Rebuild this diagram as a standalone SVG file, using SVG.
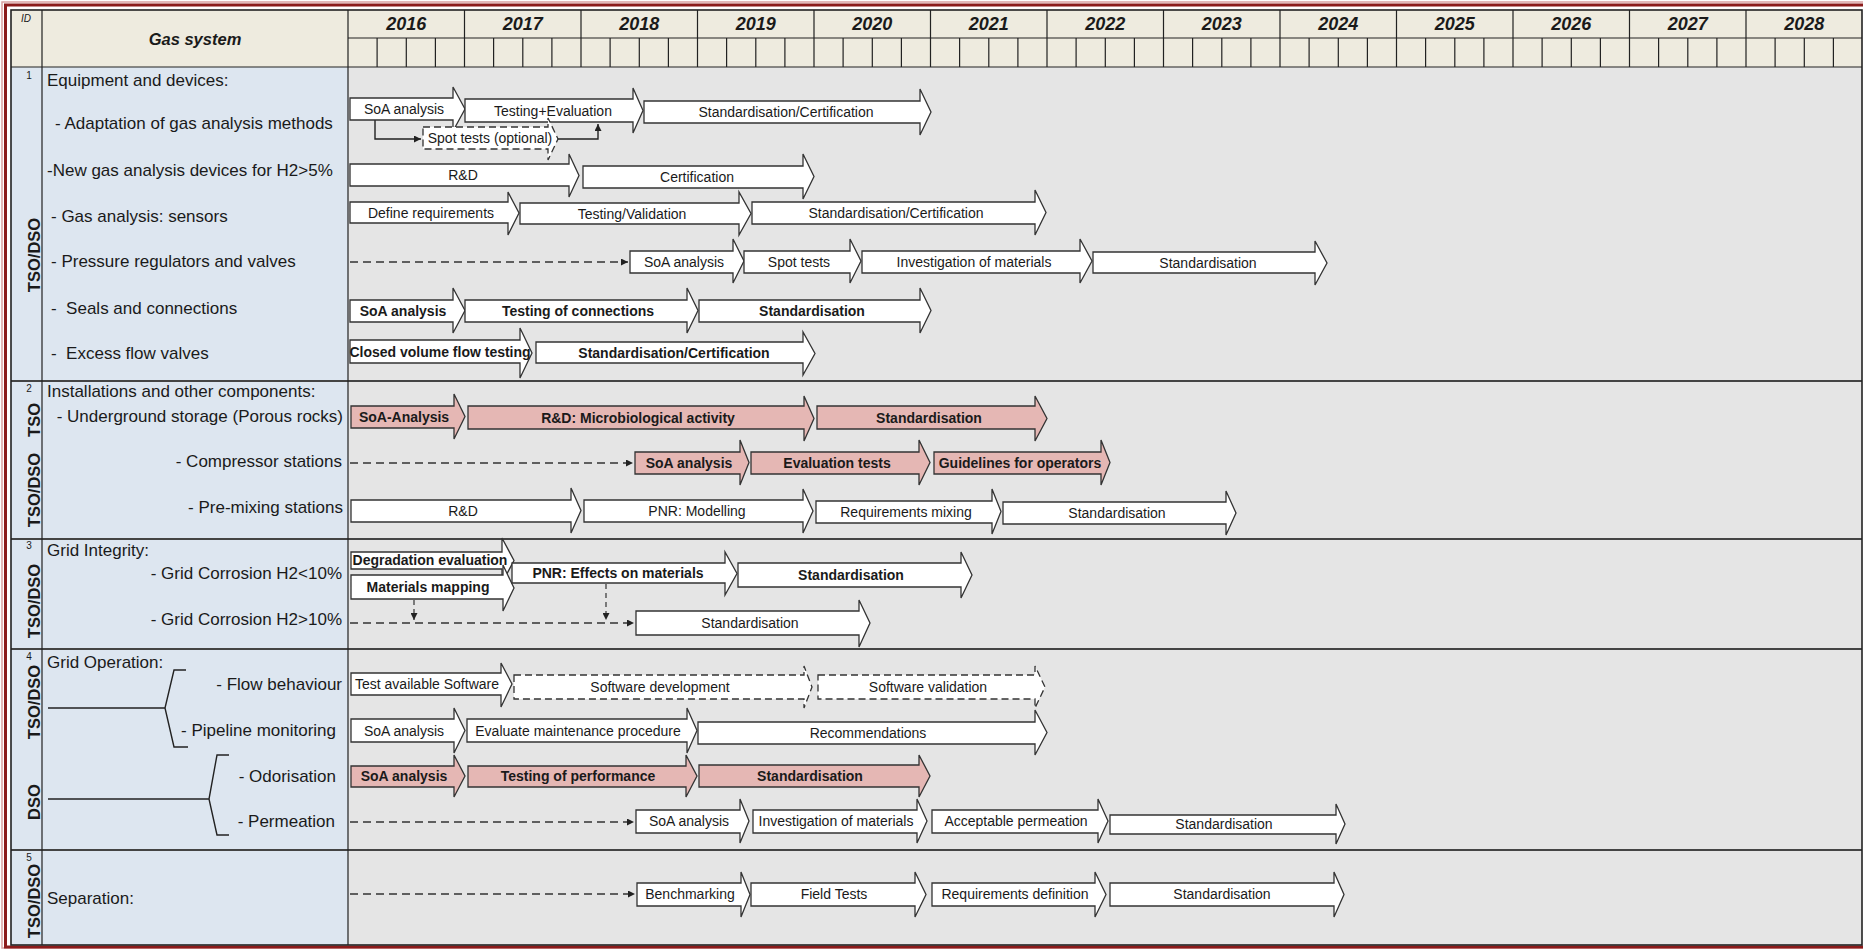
<svg xmlns="http://www.w3.org/2000/svg" width="1863" height="949" viewBox="0 0 1863 949">
<defs>
<style>
text{font-family:"Liberation Sans",Arial,sans-serif;fill:#1a1a1a;dominant-baseline:central}
.lbl{font-size:17px;white-space:pre}
.lr{font-size:17px;text-anchor:end}
.at{font-size:14px;text-anchor:middle}
.ab{font-size:14px;font-weight:bold;text-anchor:middle}
.yr{font-size:18px;font-weight:bold;font-style:italic;text-anchor:middle}
.rot{font-size:16.5px;font-weight:bold;text-anchor:middle}
.id{font-size:10px;text-anchor:middle}
.arr{fill:#fff;stroke:#333;stroke-width:1.3}
.pk{fill:#E5B7B4;stroke:#333;stroke-width:1.3}
.da{fill:#fff;stroke:#333;stroke-width:1.3;stroke-dasharray:7 4}
.dl{fill:none;stroke:#333;stroke-width:1.3;stroke-dasharray:8 5}
.dv{fill:none;stroke:#333;stroke-width:1.2;stroke-dasharray:5 4}
.cn{fill:none;stroke:#222;stroke-width:1.4}
.sec{stroke:#444;stroke-width:2}
.grid{stroke:#222;stroke-width:1.2;fill:none}
</style>
<marker id="ah" viewBox="0 0 8 8" refX="8" refY="4" markerWidth="7" markerHeight="7" markerUnits="userSpaceOnUse" orient="auto">
<path d="M0,0 L8,4 L0,8 Z" fill="#222"/>
</marker>
</defs>

<rect width="1863" height="949" fill="#fff"/>
<rect x="2" y="2" width="1880" height="946" fill="none" stroke="#D9A3A3" stroke-width="1.5"/>
<rect x="5.5" y="5" width="1880" height="942" fill="none" stroke="#8B1B1B" stroke-width="3"/>

<g id="table">
<rect x="11" y="10" width="1851" height="57" fill="#EEEBDF"/>
<rect x="11" y="67" width="337" height="878" fill="#DDE6F0"/>
<rect x="348" y="67" width="1514" height="878" fill="#E5E5E5"/>
<path class="grid" d="M348 38H1862M464.5 10V67M581 10V67M697.5 10V67M814 10V67M930.5 10V67M1047 10V67M1163.5 10V67M1280 10V67M1396.5 10V67M1513 10V67M1629.5 10V67M1746 10V67"/>
<path class="grid" stroke-width="1" d="M377.1 38V67M406.3 38V67M435.4 38V67M493.6 38V67M522.8 38V67M551.9 38V67M610.1 38V67M639.3 38V67M668.4 38V67M726.6 38V67M755.8 38V67M784.9 38V67M843.1 38V67M872.3 38V67M901.4 38V67M959.6 38V67M988.8 38V67M1017.9 38V67M1076.1 38V67M1105.3 38V67M1134.4 38V67M1192.6 38V67M1221.8 38V67M1250.9 38V67M1309.1 38V67M1338.3 38V67M1367.4 38V67M1425.6 38V67M1454.8 38V67M1483.9 38V67M1542.1 38V67M1571.3 38V67M1600.4 38V67M1658.6 38V67M1687.8 38V67M1716.9 38V67M1775.1 38V67M1804.3 38V67M1833.4 38V67"/>
<path class="sec" d="M11 381H1862M11 539H1862M11 649H1862M11 850H1862"/>
<path class="grid" stroke-width="1.6" d="M11 67H1862M42 10V945M348 10V945"/>
<rect x="11" y="10" width="1851" height="935" fill="none" stroke="#222" stroke-width="1.6"/>
<text x="21" y="18" style="font-size:10px;font-style:italic">ID</text>
<text x="195" y="38.5" style="font-size:16.5px;font-weight:bold;font-style:italic;text-anchor:middle">Gas system</text>
<text class="yr" x="406.3" y="24">2016</text>
<text class="yr" x="522.8" y="24">2017</text>
<text class="yr" x="639.3" y="24">2018</text>
<text class="yr" x="755.8" y="24">2019</text>
<text class="yr" x="872.3" y="24">2020</text>
<text class="yr" x="988.8" y="24">2021</text>
<text class="yr" x="1105.3" y="24">2022</text>
<text class="yr" x="1221.8" y="24">2023</text>
<text class="yr" x="1338.3" y="24">2024</text>
<text class="yr" x="1454.8" y="24">2025</text>
<text class="yr" x="1571.3" y="24">2026</text>
<text class="yr" x="1687.8" y="24">2027</text>
<text class="yr" x="1804.3" y="24">2028</text>
</g>

<g id="side-labels">
<text class="id" x="29" y="75">1</text>
<text class="id" x="29" y="388">2</text>
<text class="id" x="29" y="545">3</text>
<text class="id" x="29" y="656">4</text>
<text class="id" x="29" y="857">5</text>
<text class="rot" transform="translate(34,255) rotate(-90)">TSO/DSO</text>
<text class="rot" transform="translate(34,420) rotate(-90)">TSO</text>
<text class="rot" transform="translate(34,490) rotate(-90)">TSO/DSO</text>
<text class="rot" transform="translate(34,601) rotate(-90)">TSO/DSO</text>
<text class="rot" transform="translate(34,702) rotate(-90)">TSO/DSO</text>
<text class="rot" transform="translate(34,802) rotate(-90)">DSO</text>
<text class="rot" transform="translate(34,901) rotate(-90)">TSO/DSO</text>
</g>

<g id="row-labels">
<text class="lbl" x="47" y="80">Equipment and devices:</text>
<text class="lbl" x="55" y="123">- Adaptation of gas analysis methods</text>
<text class="lbl" x="47" y="170">-New gas analysis devices for H2&gt;5%</text>
<text class="lbl" x="51" y="216">- Gas analysis: sensors</text>
<text class="lbl" x="51" y="261">- Pressure regulators and valves</text>
<text class="lbl" x="51" y="308">-  Seals and connections</text>
<text class="lbl" x="51" y="353">-  Excess flow valves</text>
<text class="lbl" x="47" y="391">Installations and other components:</text>
<text class="lr" x="343" y="416">- Underground storage (Porous rocks)</text>
<text class="lr" x="342" y="461">- Compressor stations</text>
<text class="lr" x="343" y="507">- Pre-mixing stations</text>
<text class="lbl" x="47" y="550">Grid Integrity:</text>
<text class="lr" x="342" y="573">- Grid Corrosion H2&lt;10%</text>
<text class="lr" x="342" y="619">- Grid Corrosion H2&gt;10%</text>
<text class="lbl" x="47" y="662">Grid Operation:</text>
<text class="lr" x="342" y="684">- Flow behaviour</text>
<text class="lr" x="336" y="730">- Pipeline monitoring</text>
<text class="lr" x="336" y="776">- Odorisation</text>
<text class="lr" x="335" y="821">- Permeation</text>
<text class="lbl" x="47" y="898">Separation:</text>
</g>

<g id="connectors">
<path class="cn" d="M48 708H165M186 670H174L165 708L174 747H188"/>
<path class="cn" d="M48 799H209M229 755H217L209 799L217 835H229"/>
<path class="cn" d="M375 120V139H421" marker-end="url(#ah)"/>
<path class="cn" d="M558 139H598V124" marker-end="url(#ah)"/>
<path class="dl" d="M350 262H628" marker-end="url(#ah)"/>
<path class="dl" d="M350 463H633" marker-end="url(#ah)"/>
<path class="dl" d="M350 623H634" marker-end="url(#ah)"/>
<path class="dv" d="M414 600V620" marker-end="url(#ah)"/>
<path class="dv" d="M606 584V620" marker-end="url(#ah)"/>
<path class="dl" d="M350 822H634" marker-end="url(#ah)"/>
<path class="dl" d="M350 894H635" marker-end="url(#ah)"/>
</g>

<g id="n1-adaptation">
<path class="arr" d="M350 98H453V87L465 109L453 131V120H350Z"/><text class="at" x="404" y="109">SoA analysis</text>
<path class="arr" d="M465 99H633V88L643 110.5L633 133V122H465Z"/><text class="at" x="553" y="110.5">Testing+Evaluation</text>
<path class="arr" d="M644 101H920V89L931 112L920 135V123H644Z"/><text class="at" x="786" y="112">Standardisation/Certification</text>
<path class="da" d="M423 127H548V118L558 139L548 160V149H423Z"/><text class="at" x="490" y="138">Spot tests (optional)</text>
</g>
<g id="n1-newdevices">
<path class="arr" d="M350 164H569V154L579 175.5L569 197V186H350Z"/><text class="at" x="463" y="175">R&amp;D</text>
<path class="arr" d="M583 166H803V154L814 176.5L803 199V188H583Z"/><text class="at" x="697" y="177">Certification</text>
</g>
<g id="n1-sensors">
<path class="arr" d="M350 202H508V192L519 213L508 235V223H350Z"/><text class="at" x="431" y="212.5">Define requirements</text>
<path class="arr" d="M520 203H739V192L751 213.5L739 235V224H520Z"/><text class="at" x="632" y="213.5">Testing/Validation</text>
<path class="arr" d="M752 202H1035V190L1046 212.5L1035 235V224H752Z"/><text class="at" x="896" y="213">Standardisation/Certification</text>
</g>
<g id="n1-pressure">
<path class="arr" d="M630 251H733V239L744 261L733 283V273H630Z"/><text class="at" x="684" y="262">SoA analysis</text>
<path class="arr" d="M744 251H850V239L861 261L850 283V273H744Z"/><text class="at" x="799" y="262">Spot tests</text>
<path class="arr" d="M862 251H1080V239L1092 261L1080 283V273H862Z"/><text class="at" x="974" y="262">Investigation of materials</text>
<path class="arr" d="M1093 252H1315V241L1327 263L1315 285V273H1093Z"/><text class="at" x="1208" y="262.5">Standardisation</text>
</g>
<g id="n1-seals">
<path class="arr" d="M350 300H453V288L465 310.5L453 333V322H350Z"/><text class="ab" x="403" y="311">SoA analysis</text>
<path class="arr" d="M465 300H687V288L698 310.5L687 333V322H465Z"/><text class="ab" x="578" y="311">Testing of connections</text>
<path class="arr" d="M699 300H920V288L931 310.5L920 333V322H699Z"/><text class="ab" x="812" y="311">Standardisation</text>
</g>
<g id="n1-excess">
<path class="arr" d="M350 340H520V328L532 353L520 378V363H350Z"/><text class="ab" x="440" y="352">Closed volume flow testing</text>
<path class="arr" d="M536 342H803V332L815 353.5L803 375V363H536Z"/><text class="ab" x="674" y="353">Standardisation/Certification</text>
</g>

<g id="n2-underground">
<path class="pk" d="M351 406H454V394L465 416.5L454 439V428H351Z"/><text class="ab" x="404" y="417">SoA-Analysis</text>
<path class="pk" d="M468 406H804V396L814 418.5L804 441V429H468Z"/><text class="ab" x="638" y="418">R&amp;D: Microbiological activity</text>
<path class="pk" d="M817 406H1035V396L1047 418.5L1035 441V429H817Z"/><text class="ab" x="929" y="418">Standardisation</text>
</g>
<g id="n2-compressor">
<path class="pk" d="M635 452H740V440L749 462.5L740 485V474H635Z"/><text class="ab" x="689" y="463">SoA analysis</text>
<path class="pk" d="M751 452H919V440L930 462.5L919 485V474H751Z"/><text class="ab" x="837" y="463">Evaluation tests</text>
<path class="pk" d="M934 452H1101V440L1110 462.5L1101 485V474H934Z"/><text class="ab" x="1020" y="463">Guidelines for operators</text>
</g>
<g id="n2-premixing">
<path class="arr" d="M351 500H571V488L581 510.5L571 533V522H351Z"/><text class="at" x="463" y="511">R&amp;D</text>
<path class="arr" d="M584 500H803V489L813 511L803 533V522H584Z"/><text class="at" x="697" y="511">PNR: Modelling</text>
<path class="arr" d="M816 501H992V489L1001 511.5L992 534V523H816Z"/><text class="at" x="906" y="512">Requirements mixing</text>
<path class="arr" d="M1003 502H1226V491L1236 513L1226 535V524H1003Z"/><text class="at" x="1117" y="513">Standardisation</text>
</g>

<g id="n3-corrosion-low">
<path class="arr" d="M351 552H502V538L514 560.5L502 583V569H351Z"/><text class="ab" x="430" y="560">Degradation evaluation</text>
<path class="arr" d="M351 575H503V565L514 588L503 611V599H351Z"/><text class="ab" x="428" y="587">Materials mapping</text>
<path class="arr" d="M512 563H725V552L737 573.5L725 595V583H512Z"/><text class="ab" x="618" y="573">PNR: Effects on materials</text>
<path class="arr" d="M738 563H961V552L972 575L961 598V587H738Z"/><text class="ab" x="851" y="575">Standardisation</text>
</g>
<g id="n3-corrosion-high">
<path class="arr" d="M636 611H859V600L870 623L859 647V635H636Z"/><text class="at" x="750" y="623">Standardisation</text>
</g>

<g id="n4-flow">
<path class="arr" d="M351 673H501V663L512 684L501 707V695H351Z"/><text class="at" x="427" y="684">Test available Software</text>
<path class="da" d="M514 675H804V666L812 687L804 708V699H514Z"/><text class="at" x="660" y="687">Software development</text>
<path class="da" d="M818 675H1035V666L1045 687L1035 708V699H818Z"/><text class="at" x="928" y="687">Software validation</text>
</g>
<g id="n4-pipeline">
<path class="arr" d="M351 719H454V708L465 730.5L454 753V742H351Z"/><text class="at" x="404" y="731">SoA analysis</text>
<path class="arr" d="M467 719H687V708L697 730.5L687 753V742H467Z"/><text class="at" x="578" y="731">Evaluate maintenance procedure</text>
<path class="arr" d="M698 722H1035V710L1047 732.5L1035 755V744H698Z"/><text class="at" x="868" y="733">Recommendations</text>
</g>
<g id="n4-odorisation">
<path class="pk" d="M351 766H454V755L465 776L454 797V787H351Z"/><text class="ab" x="404" y="776">SoA analysis</text>
<path class="pk" d="M468 766H686V755L697 776L686 797V787H468Z"/><text class="ab" x="578" y="776">Testing of performance</text>
<path class="pk" d="M699 765H919V755L930 776L919 797V787H699Z"/><text class="ab" x="810" y="776">Standardisation</text>
</g>
<g id="n4-permeation">
<path class="arr" d="M636 810H740V799L749 821L740 843V833H636Z"/><text class="at" x="689" y="821">SoA analysis</text>
<path class="arr" d="M753 810H917V799L927 821L917 843V833H753Z"/><text class="at" x="836" y="821">Investigation of materials</text>
<path class="arr" d="M932 810H1098V799L1108 821L1098 843V833H932Z"/><text class="at" x="1016" y="821">Acceptable permeation</text>
<path class="arr" d="M1110 815H1336V804L1345 824L1336 844V834H1110Z"/><text class="at" x="1224" y="824">Standardisation</text>
</g>

<g id="n5-separation">
<path class="arr" d="M637 883H741V872L750 894.5L741 917V906H637Z"/><text class="at" x="690" y="894">Benchmarking</text>
<path class="arr" d="M751 883H915V872L926 894.5L915 917V906H751Z"/><text class="at" x="834" y="894">Field Tests</text>
<path class="arr" d="M932 883H1095V872L1106 894.5L1095 917V906H932Z"/><text class="at" x="1015" y="894">Requirements definition</text>
<path class="arr" d="M1110 883H1334V872L1344 894.5L1334 917V906H1110Z"/><text class="at" x="1222" y="894">Standardisation</text>
</g>
</svg>
